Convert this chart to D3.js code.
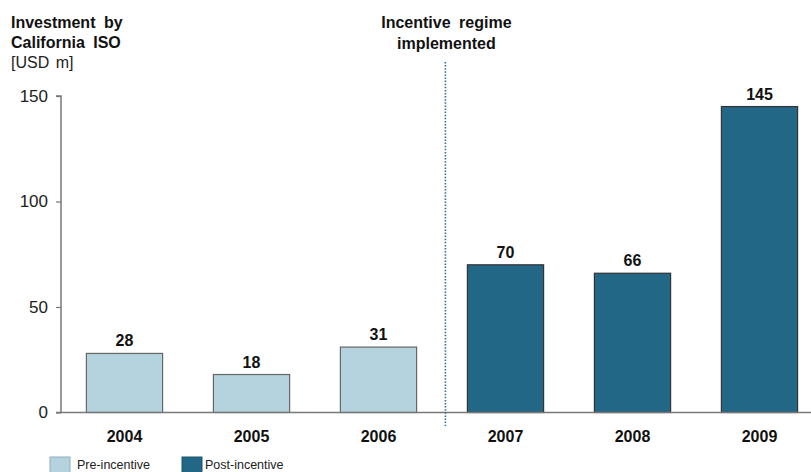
<!DOCTYPE html>
<html>
<head>
<meta charset="utf-8">
<script src="https://cdn.jsdelivr.net/npm/d3@7"></script>
<style>
  body { margin: 0; background: #fff; }
  text { font-family: "Liberation Sans", Arial, sans-serif; }
</style>
</head>
<body>
<svg id="chart" width="811" height="472"></svg>
<script>
let years = ["2004", "2005", "2006", "2007", "2008", "2009"]
let values = [28, 18, 31, 70, 66, 145]
let phases = ["pre", "pre", "pre", "post", "post", "post"]
let y_ticks = [0, 50, 100, 150]
let legend_items = [["pre", "Pre-incentive"], ["post", "Post-incentive"]]

let colors = { pre: "#b4d3de", post: "#236786" }

let svg = d3.select("#chart")

let x = d3.scaleBand().domain(years).range([61, 823]).paddingInner(0.4).paddingOuter(0.2)
let y = d3.scaleLinear().domain([0, 150]).range([412.5, 96])

// y axis
let yAxis = svg.append("g")
  .attr("transform", "translate(61,0)")
  .call(d3.axisLeft(y).tickValues(y_ticks).tickSize(5).tickPadding(8))
yAxis.select(".domain").attr("stroke", "#777").attr("stroke-width", 1.5).attr("d", "M-5,96H0V412.5")
yAxis.selectAll(".tick line").attr("stroke", "#777").attr("stroke-width", 1.2)
yAxis.selectAll(".tick text")
  .attr("font-size", 17).attr("fill", "#222")
  .style("font-family", "'Liberation Sans', Arial, sans-serif")

// bars
svg.append("g")
  .selectAll("rect")
  .data(years).enter()
  .append("rect")
  .attr("x", d => x(d))
  .attr("y", (d, i) => y(values[i]))
  .attr("width", x.bandwidth())
  .attr("height", (d, i) => y(0) - y(values[i]))
  .attr("fill", (d, i) => colors[phases[i]])
  .attr("stroke", (d, i) => phases[i] == "pre" ? "#666" : "#333")
  .attr("stroke-width", 1.2)

// baseline
svg.append("line")
  .attr("x1", 56).attr("x2", 811)
  .attr("y1", y(0)).attr("y2", y(0))
  .attr("stroke", "#777").attr("stroke-width", 1.5)

// value labels
svg.append("g").selectAll("text")
  .data(years).enter()
  .append("text")
  .attr("x", d => x(d) + x.bandwidth() / 2)
  .attr("y", (d, i) => y(values[i]) - 7)
  .attr("text-anchor", "middle")
  .attr("font-size", 16).attr("font-weight", "bold").attr("fill", "#111")
  .text((d, i) => values[i])

// year labels
svg.append("g").selectAll("text")
  .data(years).enter()
  .append("text")
  .attr("x", d => x(d) + x.bandwidth() / 2)
  .attr("y", 442)
  .attr("text-anchor", "middle")
  .attr("font-size", 16).attr("font-weight", "bold").attr("fill", "#111")
  .text(d => d)

// incentive divider
let divX = x("2007") - 22
svg.append("line")
  .attr("x1", divX).attr("x2", divX)
  .attr("y1", 62).attr("y2", 426)
  .attr("stroke", "#2d6f97").attr("stroke-width", 1.6)
  .attr("stroke-dasharray", "1.5,1.6")

svg.append("text")
  .attr("x", divX + 1).attr("y", 28)
  .attr("text-anchor", "middle")
  .attr("font-size", 16).attr("font-weight", "bold").attr("fill", "#111")
  .attr("word-spacing", 4)
  .text("Incentive regime")
svg.append("text")
  .attr("x", divX + 1).attr("y", 49)
  .attr("text-anchor", "middle")
  .attr("font-size", 16).attr("font-weight", "bold").attr("fill", "#111")
  .text("implemented")

// title
svg.append("text").attr("x", 11).attr("y", 28)
  .attr("font-size", 16).attr("font-weight", "bold").attr("fill", "#111")
  .attr("word-spacing", 4)
  .text("Investment by")
svg.append("text").attr("x", 11).attr("y", 48)
  .attr("font-size", 16).attr("font-weight", "bold").attr("fill", "#111")
  .attr("word-spacing", 4)
  .text("California ISO")
svg.append("text").attr("x", 11).attr("y", 68)
  .attr("font-size", 16).attr("fill", "#222")
  .attr("word-spacing", 2)
  .text("[USD m]")

// legend
let legend = svg.append("g").selectAll("g")
  .data(legend_items).enter()
  .append("g")
  .attr("transform", (d, i) => `translate(${[50, 182][i]},457)`)
legend.append("rect")
  .attr("width", 20).attr("height", 18)
  .attr("fill", d => colors[d[0]])
  .attr("stroke", d => d[0] == "pre" ? "#8fb0bd" : "#1d5670")
legend.append("text")
  .attr("x", d => d[0] == "pre" ? 27 : 23).attr("y", 12)
  .attr("font-size", 12.5).attr("fill", "#222")
  .text(d => d[1])
</script>
</body>
</html>
